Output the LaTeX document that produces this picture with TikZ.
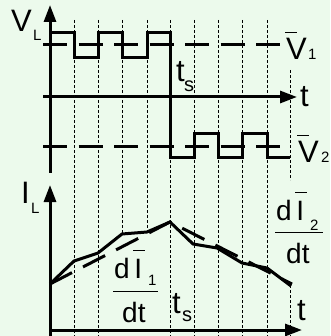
\documentclass[tikz,border=0pt]{standalone}
\usepackage{fontspec}
\setmainfont{Liberation Sans}
\usetikzlibrary{arrows.meta}
\definecolor{paper}{RGB}{236,250,236}
\newcommand{\barred}[1]{\rlap{\kern-1pt\raisebox{27pt}{\rule{12pt}{1pt}}}#1}

\begin{document}
\begin{tikzpicture}[x=1pt, y=-1pt,
	every node/.style={inner sep=0pt, anchor=base west},
	big/.style={font=\fontsize{31}{31}\selectfont},
	frac/.style={font=\fontsize{28}{28}\selectfont},
	low/.style={font=\fontsize{15}{15}\selectfont},
	axis/.style={line width=3pt},
	arrow/.style={axis, -{Triangle[length=17pt, width=12pt]}},
	wave/.style={line width=3pt, line join=miter},
	level/.style={line width=3pt, dash pattern=on 24pt off 11.5pt},
	mean/.style={line width=3pt, dash pattern=on 24.8pt off 12.4pt},
	grid/.style={line width=0.8pt, dash pattern=on 3pt off 2pt}
	]
	
	\fill[paper] (0,0) rectangle (330,336);
	\useasboundingbox (0,0) rectangle (330,336);
	
	% switching instants
	\foreach \x/\a/\b in {74/20/336, 98/20/336, 122/20/235, 147/20/232, 170/20/336,
		194/20/336, 218/20/336, 242/20/336, 267/20/336, 290/70/180, 290/285/336}
		\draw[grid] (\x,\a) -- (\x,\b);
	
	% voltage
	\draw[arrow] (50,173) -- (50,5);
	\draw[arrow] (43,97) -- (297,97);
	\draw[level] (43,45) -- (282,45);
	\draw[level] (43,147) -- (282,147);
	\draw[wave] (50,33) -- (74,33) -- (74,58) -- (98,58) -- (98,33) -- (122,33) -- (122,58)
		-- (147,58) -- (147,33) -- (170,33) -- (170,158) -- (194,158) -- (194,134)
		-- (218,134) -- (218,158) -- (242,158) -- (242,134) -- (267,134) -- (267,158) -- (290,158);
	
	\node[big] (VL) at (11,32) {V};
	\node[low] (VLsub) at (33,41) {L};
	\node[big] (V1) at (286,60) {\barred{V}};
	\node[low] (V1sub) at (308,60) {1};
	\node[big] (V2) at (298,163) {\barred{V}};
	\node[low] (V2sub) at (321,163) {2};
	\node[big] (tV) at (300,107) {t};
	\node[big] (tsV) at (176,82) {t};
	\node[font=\fontsize{20}{20}\selectfont] (tsVsub) at (184,92) {s};
	
	% current
	\draw[arrow] (50,336) -- (50,185);
	\draw[arrow] (50,330) -- (302,330);
	\draw[mean] (50,284) -- (170,222) -- (292,284);
	\draw[wave] (50,284) -- (74,261) -- (98,253) -- (122,234) -- (147,232) -- (170,222)
		-- (193,244) -- (217,248) -- (242,263) -- (267,268) -- (291,286);
	
	\node[big] (IL) at (21,203) {I};
	\node[low] (ILsub) at (31,213) {L};
	\node[big] (tI) at (297,320) {t};
	\node[big] (tsI) at (172,313) {t};
	\node[font=\fontsize{20}{20}\selectfont] (tsIsub) at (182,321) {s};
	
	\node[frac] (num1) at (114,278) {d\,\barred{I}};
	\node[low] (num1sub) at (148,285) {1};
	\node[frac] (den1) at (122,322) {dt};
	\draw[line width=0.8pt] (113,291) -- (158,291);
	
	\node[frac] (num2) at (276,220) {d\,\barred{I}};
	\node[low] (num2sub) at (310,230) {2};
	\node[frac] (den2) at (286,263) {dt};
	\draw[line width=0.8pt] (275,232) -- (323,232);
	
\end{tikzpicture}
\end{document}
